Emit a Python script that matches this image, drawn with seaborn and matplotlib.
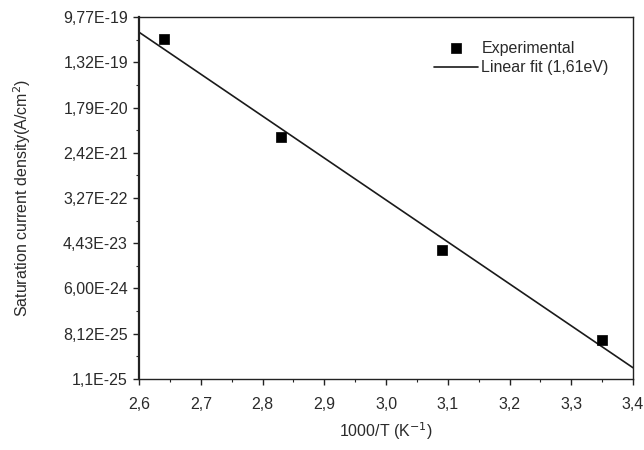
import matplotlib
matplotlib.use("Agg")
import matplotlib.pyplot as plt
import seaborn as sns
import numpy as np
import pandas as pd

# Data
exp_x = [2.64, 2.83, 3.09, 3.35]
exp_y = [3.70e-19, 4.80e-21, 3.30e-23, 6.17e-25]
fit_x = [2.6, 3.4]
fit_y = [5.0e-19, 1.8e-25]
y_tick_values = [9.77e-19, 1.32e-19, 1.79e-20, 2.42e-21, 3.27e-22,
                 4.43e-23, 6.00e-24, 8.12e-25, 1.1e-25]
y_tick_labels = ["9,77E-19", "1,32E-19", "1,79E-20", "2,42E-21", "3,27E-22",
                 "4,43E-23", "6,00E-24", "8,12E-25", "1,1E-25"]
x_tick_values = [2.6, 2.7, 2.8, 2.9, 3.0, 3.1, 3.2, 3.3, 3.4]
x_tick_labels = ["2,6", "2,7", "2,8", "2,9", "3,0", "3,1", "3,2", "3,3", "3,4"]

sns.set_style("ticks")
plt.rcParams['font.family'] = ['Liberation Sans', 'DejaVu Sans']
txt = '#2a2a2a'

fig = plt.figure(figsize=(6.44, 4.5), dpi=100)
ax = fig.add_axes([0.216, 0.158, 0.767, 0.804])

df_exp = pd.DataFrame({"x": exp_x, "y": exp_y})
df_fit = pd.DataFrame({"x": fit_x, "y": fit_y})

sns.lineplot(data=df_fit, x="x", y="y", ax=ax, color='#1a1a1a', lw=1.2,
             label="Linear fit (1,61eV)")
sns.scatterplot(data=df_exp, x="x", y="y", ax=ax, marker='s', s=55,
                color='black', edgecolor='black', linewidth=0.5,
                label="Experimental", zorder=3)

ax.set_yscale('log')
ax.set_xlim(2.6, 3.4)
ax.set_ylim(y_tick_values[-1], y_tick_values[0])

ax.set_yticks(y_tick_values)
ax.set_yticklabels(y_tick_labels)
ly = np.log10(y_tick_values)
minor_y = 10 ** ((ly[:-1] + ly[1:]) / 2)
ax.set_yticks(minor_y, minor=True)
ax.yaxis.set_minor_formatter(matplotlib.ticker.NullFormatter())

ax.set_xticks(x_tick_values)
ax.set_xticklabels(x_tick_labels)
ax.set_xticks(np.array(x_tick_values[:-1]) + 0.05, minor=True)

ax.tick_params(axis='both', which='major', direction='out', length=4,
               width=1.0, colors='#222222', labelcolor=txt)
ax.tick_params(axis='y', which='major', labelsize=11.5, pad=4)
ax.tick_params(axis='x', which='major', labelsize=11.5, pad=9)
ax.tick_params(axis='both', which='minor', direction='out', length=2.5,
               width=0.8, colors='#222222')

for sp in ax.spines.values():
    sp.set_visible(True)
    sp.set_linewidth(1.0)
    sp.set_color('#222222')
ax.spines['left'].set_linewidth(1.6)

ax.set_xlabel("1000/T (K$^{-1}$)", fontsize=11.5, color=txt, labelpad=6)
ax.set_ylabel("Saturation current density(A/cm$^2$)", fontsize=11.5,
              color=txt, labelpad=22)

handles, labels = ax.get_legend_handles_labels()
order = [labels.index("Experimental"), labels.index("Linear fit (1,61eV)")]
ax.legend([handles[i] for i in order], [labels[i] for i in order],
          loc='upper right', bbox_to_anchor=(0.98, 0.975), frameon=False,
          fontsize=11.5, handlelength=2.8, handletextpad=0.2,
          labelspacing=0.3, labelcolor=txt)

fig.savefig("out.png", dpi=100)
